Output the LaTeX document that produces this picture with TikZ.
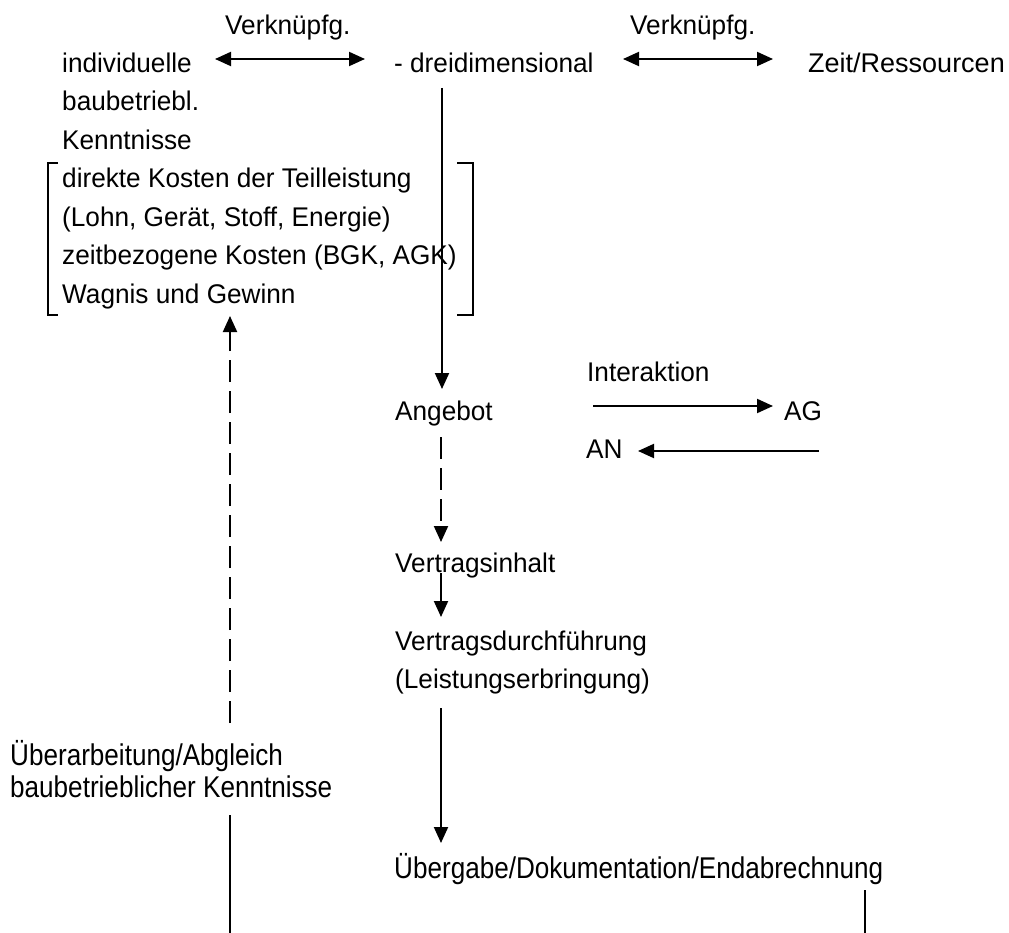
\documentclass[tikz,border=0pt]{standalone}
\usepackage{fontspec}
\setmainfont{Liberation Sans}
\usetikzlibrary{arrows.meta}
\newcommand{\cond}[1]{\scalebox{0.87}[1]{#1}}
\newcommand{\nar}[1]{\scalebox{0.97}[1]{#1}}
\begin{document}
\begin{tikzpicture}[x=1pt,y=-1pt,
  txt/.style={anchor=base west, inner sep=0pt, font=\fontsize{27}{36}\selectfont},
  bot/.style={anchor=base west, inner sep=0pt, font=\fontsize{30}{32}\selectfont},
  ln/.style={line width=2pt},
  arr/.style={ln, -{Triangle[length=16pt,width=14pt]}},
  darr/.style={ln, {Triangle[length=16pt,width=14pt]}-{Triangle[length=16pt,width=14pt]}},
  dsh/.style={dash pattern=on 22pt off 9pt}]
\useasboundingbox (0,0) rectangle (1009,933);

% texts
\node[txt] (vk1) at (225,35) {\nar{Verknüpfg.}};
\node[txt] (vk2) at (630,35) {\nar{Verknüpfg.}};
\node[txt] (ind) at (62,73) {\nar{individuelle}};
\node[txt] (dre) at (394,73) {\nar{- dreidimensional}};
\node[txt] (zeit) at (808,73) {Zeit/Ressourcen};
\node[txt] (bb) at (62,111) {\nar{baubetriebl.}};
\node[txt] (ke) at (62,150) {\nar{Kenntnisse}};
\node[txt] (dk) at (62,188) {\nar{direkte Kosten der Teilleistung}};
\node[txt] (lo) at (62,227) {\nar{(Lohn, Gerät, Stoff, Energie)}};
\node[txt] (zk) at (62,265) {\nar{zeitbezogene Kosten (BGK, AGK)}};
\node[txt] (wg) at (62,303) {\nar{Wagnis und Gewinn}};
\node[txt] (ang) at (395,420) {\nar{Angebot}};
\node[txt] (int) at (587,381) {\nar{Interaktion}};
\node[txt] (ag) at (784,420) {\nar{AG}};
\node[txt] (an) at (586,458) {\nar{AN}};
\node[txt] (vi) at (395,572) {\nar{Vertragsinhalt}};
\node[txt] (vd) at (395,650) {\nar{Vertragsdurchführung}};
\node[txt] (le) at (395,688) {\nar{(Leistungserbringung)}};
\node[bot] (ue) at (394,878) {\cond{Übergabe/Dokumentation/Endabrechnung}};
\node[bot] (ua) at (10,765) {\cond{Überarbeitung/Abgleich}};
\node[bot] (bk) at (10,797) {\cond{baubetrieblicher Kenntnisse}};

% brackets
\draw[ln] (58,163) -- (48,163) -- (48,315) -- (58,315);
\draw[ln] (457,163) -- (473,163) -- (473,315) -- (457,315);

% connector end points
\coordinate (a1) at (215,59);
\coordinate (a2) at (365,59);
\coordinate (b1) at (623,59);
\coordinate (b2) at (773,59);
\coordinate (m1) at (442,88);
\coordinate (m2) at (442,389);
\coordinate (i1) at (593,406);
\coordinate (i2) at (773,406);
\coordinate (n1) at (819,451);
\coordinate (n2) at (638,451);
\coordinate (d1) at (441,437);
\coordinate (d2) at (441,542);
\coordinate (v1) at (441,573);
\coordinate (v2) at (441,617);
\coordinate (e1) at (441,708);
\coordinate (e2) at (441,843);
\coordinate (r1) at (865,890);
\coordinate (r2) at (865,933);
\coordinate (l1) at (230,723);
\coordinate (l2) at (230,316);
\coordinate (s1) at (230,815);
\coordinate (s2) at (230,933);

% connectors
\draw[darr] (a1) -- (a2);
\draw[darr] (b1) -- (b2);
\draw[arr] (m1) -- (m2);
\draw[arr] (i1) -- (i2);
\draw[arr] (n1) -- (n2);
\draw[arr,dsh] (d1) -- (d2);
\draw[arr] (v1) -- (v2);
\draw[arr] (e1) -- (e2);
\draw[ln] (r1) -- (r2);
\draw[arr,dsh] (l1) -- (l2);
\draw[ln] (s1) -- (s2);
\end{tikzpicture}
\end{document}
